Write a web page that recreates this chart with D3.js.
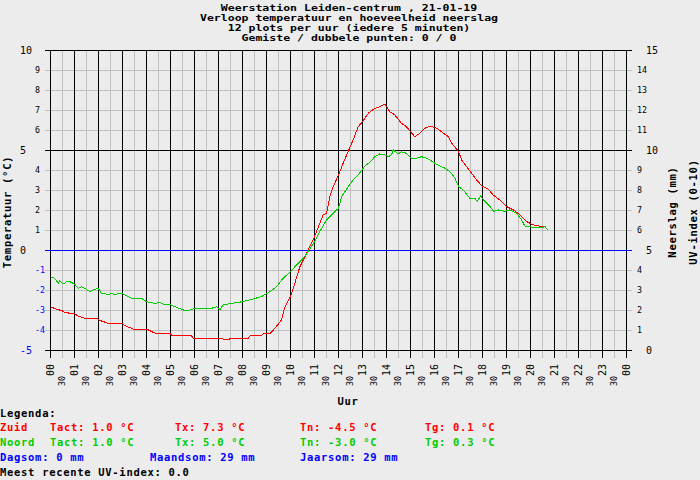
<!DOCTYPE html>
<html>
<head>
<meta charset="utf-8">
<script src="https://cdn.jsdelivr.net/npm/d3@7"></script>
<style>
  html, body { margin: 0; padding: 0; background: #ececec; }
  svg { display: block; }
  text { font-family: "DejaVu Sans Mono", "Liberation Mono", monospace; }
</style>
</head>
<body>
<script>
// ---------- DATA ----------
const titleLines = [
  "Weerstation Leiden-centrum , 21-01-19",
  "Verloop temperatuur en hoeveelheid neerslag",
  "12 plots per uur (iedere 5 minuten)",
  "Gemiste / dubbele punten: 0 / 0"
];

const leftMajorTicks = [10, 5, 0, -5];
const leftMinorTicks = [9, 8, 7, 6, 4, 3, 2, 1, -1, -2, -3, -4];
const rightMajorTicks = [15, 10, 5, 0];
const rightMinorTicks = [14, 13, 12, 11, 9, 8, 7, 6, 4, 3, 2, 1];
const hourLabels = ["00","01","02","03","04","05","06","07","08","09","10","11",
                    "12","13","14","15","16","17","18","19","20","21","22","23","00"];
const halfHourLabel = "30";

// Zuid (red) temperature, hours of day
const zuidHours = [0, 0.25, 0.46, 0.6, 0.81, 1.0, 1.15, 1.43, 1.92, 2.06, 2.26, 2.47, 3.0, 3.17, 3.38, 3.51,
  4.07, 4.21, 4.42, 5.0, 5.07, 5.88, 5.94, 7.13, 7.26, 7.4, 7.5, 8.24, 8.31, 8.79, 8.86, 9.14,
  9.35, 9.63, 9.76, 10.0, 10.18, 10.39, 10.6, 10.8, 11.0, 11.22, 11.36, 11.5, 11.64, 11.78, 12.0,
  12.19, 12.4, 12.61, 12.82, 13.0, 13.24, 13.51, 13.72, 13.93, 14.14, 14.35, 14.62, 14.83, 15.0,
  15.18, 15.39, 15.6, 15.81, 16.0, 16.15, 16.36, 16.57, 16.71, 16.85, 17.0, 17.13, 17.33, 17.54,
  17.75, 18.0, 18.24, 18.44, 18.72, 19.0, 19.28, 19.56, 19.83, 20.11, 20.32, 20.53, 20.64];
const zuidTemps = [-2.81, -2.94, -3.0, -3.09, -3.14, -3.17, -3.27, -3.39, -3.39, -3.5, -3.58, -3.67, -3.67, -3.8, -3.89, -3.97,
  -3.97, -4.05, -4.17, -4.17, -4.27, -4.27, -4.39, -4.39, -4.47, -4.47, -4.39, -4.39, -4.27, -4.27, -4.17, -4.17,
  -3.89, -3.47, -2.85, -2.3, -1.64, -0.81, -0.31, 0.19, 0.69, 1.36, 1.78, 1.86, 2.69, 3.19, 3.77,
  4.36, 4.94, 5.53, 6.19, 6.44, 6.86, 7.11, 7.19, 7.33, 6.94, 6.78, 6.36, 6.19, 5.94,
  5.69, 5.86, 6.11, 6.22, 6.16, 6.07, 5.87, 5.7, 5.37, 5.17, 4.95, 4.53, 4.2, 3.87,
  3.53, 3.2, 3.07, 2.78, 2.53, 2.2, 2.03, 1.78, 1.45, 1.28, 1.23, 1.2, 1.17];

// Noord (green) temperature, hours of day
const noordHours = [0, 0.18, 0.32, 0.39, 0.53, 0.67, 0.81, 1.0, 1.15, 1.29, 1.43, 1.64, 1.78, 1.99, 2.12,
  2.26, 2.4, 2.54, 2.68, 2.82, 3.0, 3.38, 3.79, 4.0, 4.21, 4.35, 4.56, 4.76, 5.0, 5.18, 5.46, 5.6,
  5.88, 6.0, 6.43, 6.71, 6.92, 7.06, 7.19, 7.4, 8.0, 8.38, 8.79, 9.14, 9.42, 9.69, 10.0, 10.25,
  10.53, 10.78, 11.0, 11.22, 11.5, 11.78, 12.0, 12.13, 12.4, 12.61, 12.82, 13.1, 13.38, 13.51,
  13.72, 13.93, 14.07, 14.21, 14.28, 14.49, 14.62, 14.83, 15.04, 15.25, 15.46, 15.67, 15.81,
  16.01, 16.22, 16.43, 16.64, 16.85, 17.0, 17.19, 17.47, 17.68, 17.78, 17.92, 18.1, 18.31,
  18.47, 18.65, 18.93, 19.14, 19.42, 19.63, 19.76, 20.04, 20.53, 20.6, 20.74];
const noordTemps = [-1.31, -1.4, -1.64, -1.51, -1.68, -1.56, -1.56, -1.68, -1.89, -1.81, -1.89, -2.06, -1.97, -1.89, -2.14,
  -2.14, -2.22, -2.14, -2.22, -2.14, -2.17, -2.39, -2.39, -2.56, -2.61, -2.64, -2.61, -2.72, -2.72, -2.81, -2.94, -3.0,
  -2.97, -2.89, -2.89, -2.89, -2.81, -2.97, -2.72, -2.67, -2.56, -2.44, -2.31, -2.06, -1.81, -1.39, -1.06, -0.72,
  -0.39, 0.03, 0.44, 0.94, 1.53, 1.86, 2.11, 2.69, 3.19, 3.53, 3.78, 4.22, 4.49, 4.69,
  4.83, 4.78, 4.69, 4.78, 5.03, 4.83, 4.94, 4.86, 4.61, 4.61, 4.69, 4.61, 4.53,
  4.37, 4.23, 4.12, 3.95, 3.62, 3.2, 3.03, 2.62, 2.62, 2.45, 2.73, 2.45, 2.2,
  1.95, 2.03, 1.95, 2.03, 1.87, 1.53, 1.23, 1.17, 1.17, 1.2, 1.0];

const legendTitle = "Legenda:";
const legendZuid = ["Zuid", "Tact: 1.0 °C", "Tx: 7.3 °C", "Tn: -4.5 °C", "Tg: 0.1 °C"];
const legendNoord = ["Noord", "Tact: 1.0 °C", "Tx: 5.0 °C", "Tn: -3.0 °C", "Tg: 0.3 °C"];
const legendRain = ["Dagsom: 0 mm", "Maandsom: 29 mm", "Jaarsom: 29 mm"];
const legendUV = "Meest recente UV-index: 0.0";

// ---------- DRAW ----------
const W = 700, H = 480;
const RED = "#ff0000", GREEN = "#00cc00", BLUE = "#0000ff", GREY = "#c0c0c0";
const BIG = "10.5px", LS = "0.7px";

const svg = d3.select("body").append("svg").attr("width", W).attr("height", H);
svg.append("rect").attr("width", W).attr("height", H).attr("fill", "#ececec");

const x = d3.scaleLinear().domain([0, 24]).range([50.5, 626.5]);
const y = d3.scaleLinear().domain([-5, 10]).range([350.5, 50.5]);
const yR = d3.scaleLinear().domain([0, 15]).range([350.5, 50.5]);

// Title (compact font, widened horizontally to keep the 7px character cell)
svg.append("g").selectAll("text").data(titleLines).join("text")
  .attr("transform", (d, i) => `translate(349,${11 + i * 10}) scale(1.34,1)`)
  .attr("text-anchor", "middle")
  .attr("font-size", "8.6px").attr("font-weight", "bold")
  .text(d => d);

const grid = svg.append("g").attr("shape-rendering", "crispEdges");
const halfHours = d3.range(0, 24.01, 0.5);
const degs = d3.range(-5, 10.01, 1);

// grey vertical lines (half hours)
grid.append("g").selectAll("line").data(halfHours.filter(h => h % 1 !== 0)).join("line")
  .attr("x1", d => x(d)).attr("x2", d => x(d))
  .attr("y1", y(10)).attr("y2", 358)
  .attr("stroke", GREY);
// grey horizontal lines
grid.append("g").selectAll("line").data(degs.filter(d => ![10, 5, 0, -5].includes(d))).join("line")
  .attr("x1", 45).attr("x2", 632)
  .attr("y1", d => y(d)).attr("y2", d => y(d))
  .attr("stroke", GREY);
// black vertical lines (full hours)
grid.append("g").selectAll("line").data(halfHours.filter(h => h % 1 === 0)).join("line")
  .attr("x1", d => x(d)).attr("x2", d => x(d))
  .attr("y1", y(10)).attr("y2", 358)
  .attr("stroke", "#000");
// black horizontal lines
grid.append("g").selectAll("line").data([10, 5, -5]).join("line")
  .attr("x1", 45).attr("x2", 632)
  .attr("y1", d => y(d)).attr("y2", d => y(d))
  .attr("stroke", "#000");
// blue zero line
grid.append("line")
  .attr("x1", 45).attr("x2", 632)
  .attr("y1", y(0)).attr("y2", y(0))
  .attr("stroke", BLUE);

// Left axis labels
svg.append("g").selectAll("text").data(leftMajorTicks).join("text")
  .attr("x", 20).attr("y", d => y(d)).attr("dy", "0.35em")
  .attr("font-size", "10px")
  .attr("fill", d => d < 0 ? BLUE : "#000")
  .text(d => d);
svg.append("g").selectAll("text").data(leftMinorTicks).join("text")
  .attr("x", 35).attr("y", d => y(d)).attr("dy", "0.35em")
  .attr("font-size", "8.3px")
  .attr("fill", d => d < 0 ? BLUE : "#000")
  .text(d => d);

// Right axis labels
svg.append("g").selectAll("text").data(rightMajorTicks).join("text")
  .attr("x", 646).attr("y", d => yR(d)).attr("dy", "0.35em")
  .attr("font-size", "10px")
  .text(d => d);
svg.append("g").selectAll("text").data(rightMinorTicks).join("text")
  .attr("x", 637).attr("y", d => yR(d)).attr("dy", "0.35em")
  .attr("font-size", "8.3px")
  .text(d => d);

// X axis labels (rotated)
svg.append("g").selectAll("text").data(hourLabels).join("text")
  .attr("transform", (d, i) => `translate(${x(i)},376) rotate(-90)`)
  .attr("dy", "0.35em")
  .attr("font-size", "10px")
  .text(d => d);
svg.append("g").selectAll("text").data(d3.range(0, 24)).join("text")
  .attr("transform", d => `translate(${x(d + 0.5)},386) rotate(-90)`)
  .attr("dy", "0.35em")
  .attr("font-size", "8.3px")
  .text(halfHourLabel);

// Axis titles
const axisTitle = (tx, ty, rot, txt) => svg.append("text")
  .attr("transform", `translate(${tx},${ty})` + (rot ? " rotate(-90)" : ""))
  .attr("text-anchor", "middle").attr("font-size", BIG).attr("font-weight", "bold")
  .attr("letter-spacing", LS).text(txt);
axisTitle(11, 212, true, "Temperatuur (°C)");
axisTitle(676, 212, true, "Neerslag (mm)");
axisTitle(697, 212, true, "UV-index (0-10)");
axisTitle(348, 405, false, "Uur");

// Temperature lines
const line = d3.line().x(d => x(d[0])).y(d => y(d[1]));
svg.append("path")
  .datum(d3.zip(zuidHours, zuidTemps))
  .attr("d", line).attr("fill", "none").attr("stroke", RED).attr("stroke-width", 1)
  .attr("shape-rendering", "crispEdges");
svg.append("path")
  .datum(d3.zip(noordHours, noordTemps))
  .attr("d", line).attr("fill", "none").attr("stroke", GREEN).attr("stroke-width", 1)
  .attr("shape-rendering", "crispEdges");

// Legend
const leg = svg.append("g").attr("font-size", BIG).attr("font-weight", "bold").attr("letter-spacing", LS);
leg.append("text").attr("x", 0).attr("y", 417).text(legendTitle);
const colX = [0, 50, 175, 300, 425];
leg.append("g").selectAll("text").data(legendZuid).join("text")
  .attr("x", (d, i) => colX[i]).attr("y", 431).attr("fill", RED).text(d => d);
leg.append("g").selectAll("text").data(legendNoord).join("text")
  .attr("x", (d, i) => colX[i]).attr("y", 446).attr("fill", GREEN).text(d => d);
const rainX = [0, 150, 300];
leg.append("g").selectAll("text").data(legendRain).join("text")
  .attr("x", (d, i) => rainX[i]).attr("y", 461).attr("fill", BLUE).text(d => d);
leg.append("text").attr("x", 0).attr("y", 476).text(legendUV);
</script>
</body>
</html>
